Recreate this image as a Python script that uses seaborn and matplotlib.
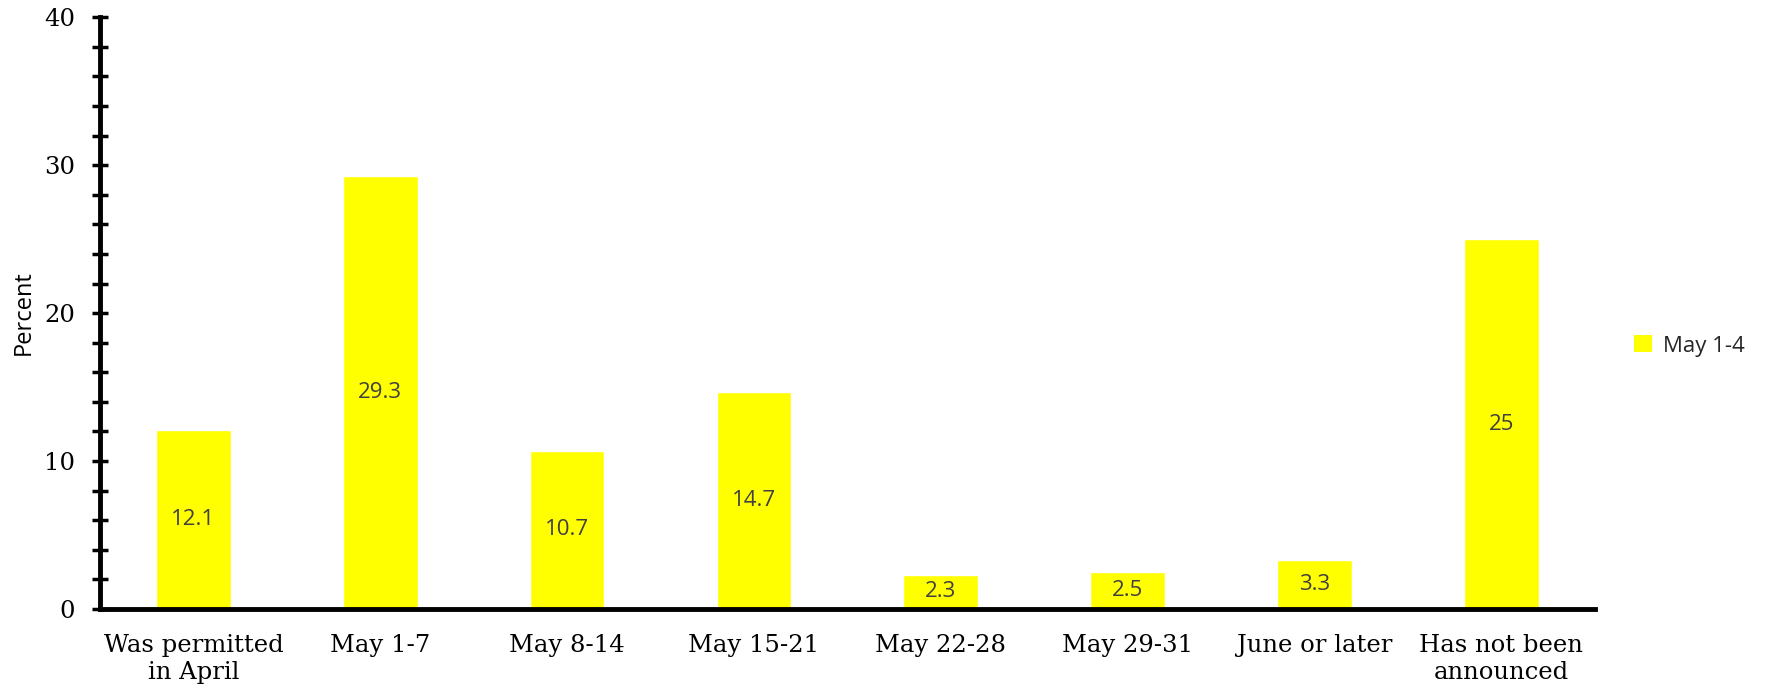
import matplotlib
matplotlib.use("Agg")
import matplotlib.pyplot as plt
import seaborn as sns
import pandas as pd
from matplotlib.ticker import MultipleLocator
from matplotlib.patches import Patch

categories = ["Was permitted\nin April", "May 1-7", "May 8-14", "May 15-21",
              "May 22-28", "May 29-31", "June or later", "Has not been\nannounced"]
values = [12.1, 29.3, 10.7, 14.7, 2.3, 2.5, 3.3, 25]
labels = ["12.1", "29.3", "10.7", "14.7", "2.3", "2.5", "3.3", "25"]
series_name = "May 1-4"

df = pd.DataFrame({"category": categories, "value": values})

sns.set_style("white")
fig = plt.figure(figsize=(17.66, 6.92), dpi=100)
ax = fig.add_axes([0.0566, 0.12, 0.8464, 0.855])

sns.barplot(data=df, x="category", y="value", color="#FFFF00", width=0.4,
            saturation=1, ax=ax)

for p, lab in zip(ax.patches, labels):
    ax.text(p.get_x() + p.get_width() / 2, p.get_height() / 2, lab,
            ha="center", va="center", fontsize=16, color="#404040",
            family="Open Sans")

ax.set_ylim(0, 40)
ax.set_xlim(-0.5, len(categories) - 0.5)
ax.yaxis.set_major_locator(MultipleLocator(10))
ax.yaxis.set_minor_locator(MultipleLocator(2))
ax.tick_params(axis="y", which="both", direction="inout", length=12, width=2.5,
               color="black", left=True)
ax.tick_params(axis="y", which="major", pad=12)
ax.tick_params(axis="x", which="both", length=0, pad=18)

for lbl in ax.get_xticklabels() + ax.get_yticklabels():
    lbl.set_family("DejaVu Serif")
    lbl.set_fontsize(17.5)
    lbl.set_color("black")
for lbl in ax.get_xticklabels():
    lbl.set_linespacing(1.25)

for s in ["top", "right"]:
    ax.spines[s].set_visible(False)
for s in ["left", "bottom"]:
    ax.spines[s].set_linewidth(3.5)
    ax.spines[s].set_color("black")

ax.set_xlabel("")
ax.set_ylabel("")
fig.text(24 / 1766, 0.548, "Percent", rotation=90, ha="center", va="center",
         family="Open Sans", fontsize=17, color="black")

handle = Patch(facecolor="#FFFF00", edgecolor="none", label=series_name)
fig.legend(handles=[handle], loc="center left", bbox_to_anchor=(0.914, 0.5),
           frameon=False, prop={"family": "Open Sans", "size": 16},
           handlelength=0.8, handleheight=0.8, handletextpad=0.5)

fig.savefig("out.png", dpi=100)
